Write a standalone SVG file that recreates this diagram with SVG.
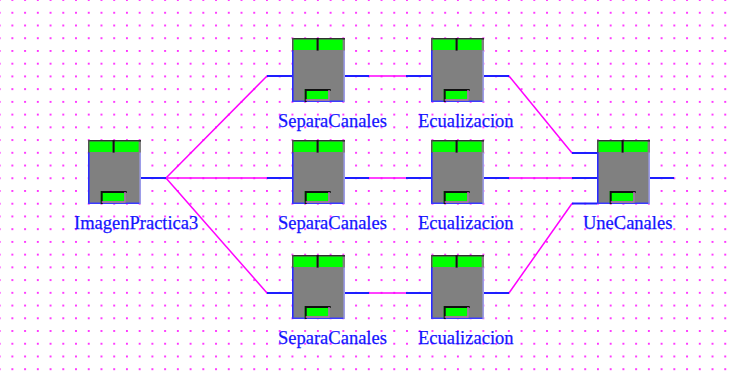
<svg xmlns="http://www.w3.org/2000/svg" xmlns:xlink="http://www.w3.org/1999/xlink" width="730" height="376" viewBox="0 0 730 376">
  <style>
    .lbl { font-family: "Liberation Serif", "Times New Roman", serif; font-size: 18.5px; fill: #1414ff; stroke: #1414ff; stroke-width: 0.25; }
    .wire { fill: none; stroke: #ff00ff; stroke-width: 1.5; }
    .port { fill: none; stroke: #1e1eff; stroke-width: 2; }
  </style>
  <defs>
    <!-- dotted editor grid -->
    <pattern id="grid" patternUnits="userSpaceOnUse" x="11.4" y="11.8" width="12.73" height="12.73">
      <rect x="0" y="0" width="1.9" height="1.9" fill="#ff30ff"/>
    </pattern>
    <!-- generic processing block, 53 x 64 -->
    <g id="block">
      <rect x="0" y="0" width="53" height="64" fill="#808080"/>
      <rect x="0" y="0" width="53" height="1.6" fill="#303030"/>
      <rect x="0" y="0" width="1.6" height="13" fill="#505050"/>
      <rect x="1.6" y="1.6" width="23" height="10.4" fill="#00ff00"/>
      <rect x="26.6" y="1.6" width="24" height="10.4" fill="#00ff00"/>
      <rect x="24.6" y="0" width="2" height="12.6" fill="#101010"/>
      <line x1="0.8" y1="12.5" x2="0.8" y2="64" stroke="#2a2aff" stroke-width="1.6"/>
      <line x1="0" y1="63.2" x2="53" y2="63.2" stroke="#3a3aff" stroke-width="1.6"/>
      <line x1="52.2" y1="12.5" x2="52.2" y2="64" stroke="#9c9ce8" stroke-width="1.6"/>
      <!-- lower output tab -->
      <rect x="12.7" y="51" width="25" height="12" fill="#00ff00"/>
      <path d="M12.7 63 V51 H37.7" fill="none" stroke="#101010" stroke-width="2" transform="translate(1 1)"/>
      <path d="M13.7 62 H37 V52" fill="none" stroke="#d050d0" stroke-width="1.4"/>
    </g>
  </defs>

  <rect width="730" height="376" fill="#ffffff"/>
  <rect width="730" height="376" fill="url(#grid)"/>

  <g id="connectors">
    <!-- fan-out from ImagenPractica3 -->
    <path class="wire" d="M166 178 L267 76"/>
    <path class="wire" d="M166 178 H267"/>
    <path class="wire" d="M166 178 L267 293"/>
    <line class="port" x1="141" y1="178" x2="166" y2="178"/>
    <line class="port" x1="267" y1="76" x2="292" y2="76"/>
    <line class="port" x1="267" y1="178" x2="292" y2="178"/>
    <line class="port" x1="267" y1="293" x2="292" y2="293"/>
    <!-- SeparaCanales to Ecualizacion -->
    <path class="wire" d="M369 76 H406"/>
    <path class="wire" d="M369 178 H406"/>
    <path class="wire" d="M369 293 H406"/>
    <line class="port" x1="344" y1="76" x2="369" y2="76"/>
    <line class="port" x1="406" y1="76" x2="431" y2="76"/>
    <line class="port" x1="344" y1="178" x2="369" y2="178"/>
    <line class="port" x1="406" y1="178" x2="431" y2="178"/>
    <line class="port" x1="344" y1="293" x2="369" y2="293"/>
    <line class="port" x1="406" y1="293" x2="431" y2="293"/>
    <!-- Ecualizacion to UneCanales -->
    <path class="wire" d="M509 76 L572 153"/>
    <path class="wire" d="M509 178 H572"/>
    <path class="wire" d="M509 293 L572 203.5"/>
    <line class="port" x1="484" y1="76" x2="509" y2="76"/>
    <line class="port" x1="484" y1="178" x2="509" y2="178"/>
    <line class="port" x1="484" y1="293" x2="509" y2="293"/>
    <line class="port" x1="572" y1="153" x2="597" y2="153"/>
    <line class="port" x1="572" y1="178" x2="597" y2="178"/>
    <line class="port" x1="572" y1="203.5" x2="597" y2="203.5"/>
    <line class="port" x1="649" y1="178" x2="674" y2="178"/>
  </g>

  <g id="imagenPractica3">
    <use xlink:href="#block" x="88" y="140"/>
    <text class="lbl" x="74" y="229">ImagenPractica3</text>
  </g>
  <g id="separaCanales1">
    <use xlink:href="#block" x="292" y="38"/>
    <text class="lbl" x="278" y="127">SeparaCanales</text>
  </g>
  <g id="separaCanales2">
    <use xlink:href="#block" x="292" y="140"/>
    <text class="lbl" x="278" y="229">SeparaCanales</text>
  </g>
  <g id="separaCanales3">
    <use xlink:href="#block" x="292" y="255"/>
    <text class="lbl" x="278" y="344">SeparaCanales</text>
  </g>
  <g id="ecualizacion1">
    <use xlink:href="#block" x="431" y="38"/>
    <text class="lbl" x="418" y="127">Ecualizacion</text>
  </g>
  <g id="ecualizacion2">
    <use xlink:href="#block" x="431" y="140"/>
    <text class="lbl" x="418" y="229">Ecualizacion</text>
  </g>
  <g id="ecualizacion3">
    <use xlink:href="#block" x="431" y="255"/>
    <text class="lbl" x="418" y="344">Ecualizacion</text>
  </g>
  <g id="uneCanales">
    <use xlink:href="#block" x="597" y="140"/>
    <text class="lbl" x="583" y="229">UneCanales</text>
  </g>
</svg>
